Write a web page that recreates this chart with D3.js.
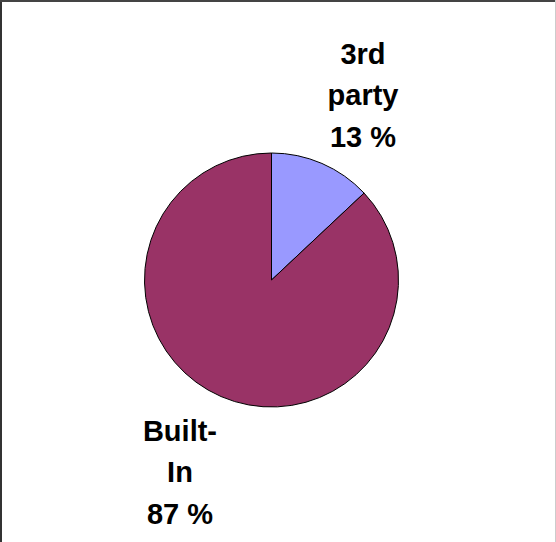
<!DOCTYPE html>
<html>
<head>
<meta charset="utf-8">
<script src="https://cdn.jsdelivr.net/npm/d3@7"></script>
<style>
  body { margin: 0; background: #fff; }
  svg { display: block; }
  text { font-family: "Liberation Sans", Arial, sans-serif; font-weight: bold; fill: #000; }
</style>
</head>
<body>
<div class="container"></div>
<script>
document.addEventListener('DOMContentLoaded', function(){

    // data
    const categories = ['3rd party', 'Built-In']
    const values = [13, 87]
    const labelLines = [['3rd', 'party', '13 %'], ['Built-', 'In', '87 %']]
    const colors = ['#9999ff', '#993366']

    const width = 556
    const height = 542
    const cx = 271.5, cy = 280, radius = 127

    const svg = d3.select(".container")
        .append("svg")
        .attr("width", width)
        .attr("height", height)

    // frame
    svg.append("rect").attr("x", 0).attr("y", 0).attr("width", 2).attr("height", height).attr("fill", "#333")
    svg.append("rect").attr("x", 0).attr("y", 0).attr("width", width).attr("height", 2).attr("fill", "#444")
    svg.append("rect").attr("x", width - 1).attr("y", 0).attr("width", 1).attr("height", height).attr("fill", "#ccc")

    const pie = d3.pie().sort(null).value(d => d.value)
    const arcs = pie(categories.map((c, i) => ({name: c, value: values[i]})))

    const arc = d3.arc().innerRadius(0).outerRadius(radius)

    const g = svg.append("g").attr("transform", "translate(" + cx + "," + cy + ")")

    g.selectAll("path")
        .data(arcs)
        .enter().append("path")
        .attr("d", arc)
        .attr("fill", (d, i) => colors[i])
        .attr("stroke", "#000")
        .attr("stroke-width", 1)

    // labels sit outside the pie, a little past each slice's mid angle
    const labelR = radius * 1.65
    const shift = 2.5 * Math.PI / 180
    const lineGap = 41.5

    arcs.forEach((d, i) => {
        const a = (d.startAngle + d.endAngle) / 2 + shift
        const x = labelR * Math.sin(a)
        const y = -labelR * Math.cos(a)
        const lines = labelLines[i]
        const t = g.append("text")
            .attr("text-anchor", "middle")
            .style("font-size", "29px")
        lines.forEach((ln, j) => {
            t.append("tspan")
                .attr("x", x)
                .attr("y", y + (j - (lines.length - 1) / 2) * lineGap + 13.5)
                .text(ln)
        })
    })
})
</script>
</body>
</html>
